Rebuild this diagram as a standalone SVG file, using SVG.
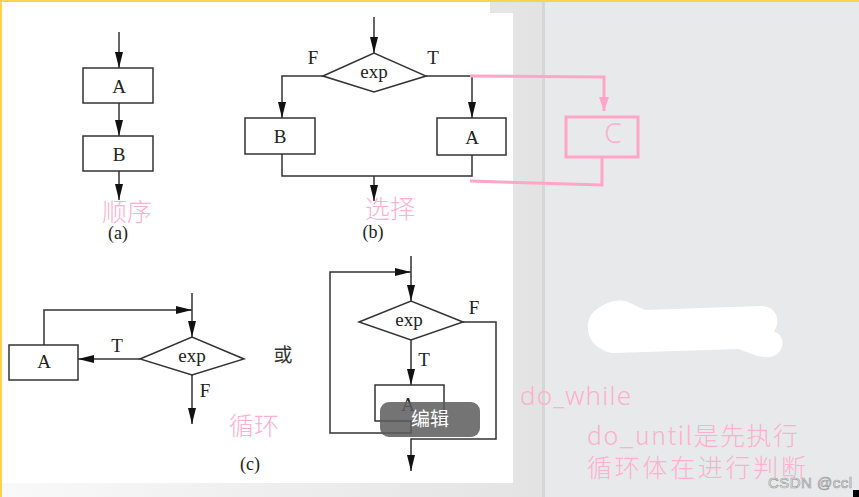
<svg xmlns="http://www.w3.org/2000/svg" width="859" height="497" viewBox="0 0 859 497">
<defs>
<linearGradient id="panel" x1="0" y1="0" x2="1" y2="0">
<stop offset="0" stop-color="#f9f9f9"/>
<stop offset="1" stop-color="#e3e3e3"/>
</linearGradient>
<marker id="ah" viewBox="0 0 16 8" refX="16" refY="4" markerWidth="16" markerHeight="8" markerUnits="userSpaceOnUse" orient="auto">
<path d="M0,0 L16,4 L0,8 z" fill="#111"/>
</marker>
<marker id="ahp" viewBox="0 0 14 10" refX="14" refY="5" markerWidth="14" markerHeight="10" markerUnits="userSpaceOnUse" orient="auto">
<path d="M0,0 L14,5 L0,10 z" fill="#ffa6c6"/>
</marker>
<style>
.box{fill:#fff;stroke:#333;stroke-width:1.5}
.ln{fill:none;stroke:#333;stroke-width:1.5}
.arr{marker-end:url(#ah)}
.t{font-family:"Liberation Serif",serif;font-size:19px;fill:#222;text-anchor:middle}
.cap{font-family:"Liberation Serif",serif;font-size:18px;fill:#222;text-anchor:middle}
.pk{font-family:"Noto Sans CJK SC","Noto Sans",sans-serif;font-weight:300;fill:#ffb0ca;font-size:25px}
.pl{fill:none;stroke:#ffa6c6;stroke-width:3}
</style>
</defs>

<!-- background -->
<rect x="0" y="0" width="859" height="497" fill="#e7e9ea"/>
<rect x="0" y="0" width="544" height="497" fill="url(#panel)"/>
<rect x="542" y="0" width="3" height="497" fill="#d6d6d6"/>
<rect x="0" y="0" width="490" height="483" fill="#fff"/>
<rect x="0" y="13" width="513" height="470" fill="#fff"/>
<rect x="0" y="0" width="859" height="2" fill="#ffd24f"/>
<rect x="0" y="0" width="2" height="497" fill="#ffd24f"/>

<!-- connectors -->
<g id="connectors">
<line class="ln arr" x1="119" y1="32" x2="119" y2="68"/>
<line class="ln arr" x1="119" y1="103" x2="119" y2="136"/>
<line class="ln arr" x1="119" y1="171" x2="119" y2="200"/>

<line class="ln arr" x1="374" y1="17" x2="374" y2="53"/>
<polyline class="ln arr" points="323,76 282,76 282,118"/>
<polyline class="ln arr" points="426,76 472,76 472,118"/>
<polyline class="ln" points="282,154 282,176 472,176 472,155"/>
<line class="ln arr" x1="374" y1="176" x2="374" y2="201"/>

<polyline class="ln arr" points="44,345 44,310 192,310"/>
<line class="ln arr" x1="192" y1="293" x2="192" y2="337"/>
<line class="ln arr" x1="140" y1="359" x2="78" y2="359"/>
<line class="ln arr" x1="192" y1="375" x2="192" y2="424"/>

<line class="ln arr" x1="411" y1="256" x2="411" y2="301"/>
<polyline class="ln arr" points="411,421 411,433 330,433 330,272 411,272"/>
<line class="ln arr" x1="411" y1="340" x2="411" y2="385"/>
<polyline class="ln arr" points="463,322 496,322 496,439 411,439 411,471"/>

<polyline class="pl" points="470,76 604,77 604,111" style="marker-end:url(#ahp)"/>
<polyline class="pl" points="602,157 602,185 470,181"/>
</g>

<!-- (a) sequence -->
<g id="a-A"><rect class="box" x="83" y="68" width="70" height="35"/><text class="t" x="119" y="93">A</text></g>
<g id="a-B"><rect class="box" x="83" y="136" width="70" height="35"/><text class="t" x="119" y="161">B</text></g>
<g id="a-label"><text class="pk" x="127" y="221" text-anchor="middle">顺序</text><text class="cap" x="118" y="239">(a)</text></g>

<!-- (b) selection -->
<g id="b-exp"><polygon class="box" points="323,76 374,53 426,76 374,92"/><text class="t" x="374" y="78">exp</text></g>
<g id="b-F"><text class="t" x="313" y="64">F</text></g>
<g id="b-T"><text class="t" x="433" y="64">T</text></g>
<g id="b-B"><rect class="box" x="245" y="118" width="70" height="36"/><text class="t" x="280" y="143">B</text></g>
<g id="b-A"><rect class="box" x="437" y="118" width="69" height="37"/><text class="t" x="472" y="144">A</text></g>
<g id="b-label"><text class="pk" x="390" y="218" text-anchor="middle">选择</text><text class="cap" x="373" y="238">(b)</text></g>

<!-- pink C -->
<g id="C"><rect class="pl" x="566" y="117" width="72" height="40"/><text x="613" y="143" text-anchor="middle" style="font-family:'Noto Sans',sans-serif;font-weight:300;font-size:28px;fill:#ffb0ca">C</text></g>

<!-- (c) loop -->
<g id="c-A"><rect class="box" x="9" y="345" width="69" height="35"/><text class="t" x="44" y="368">A</text></g>
<g id="c-exp"><polygon class="box" points="140,359 192,337 244,359 192,375"/><text class="t" x="192" y="362">exp</text></g>
<g id="c-T"><text class="t" x="117" y="352">T</text></g>
<g id="c-F"><text class="t" x="205" y="397">F</text></g>
<g id="c-or"><text x="283" y="362" text-anchor="middle" style="font-family:'Noto Sans CJK SC',sans-serif;font-size:19px;fill:#333">或</text></g>
<g id="c-label"><text class="pk" x="254" y="435" text-anchor="middle">循环</text><text class="cap" x="250" y="470">(c)</text></g>

<!-- (d) do loop -->
<g id="d-exp"><polygon class="box" points="359,322 411,301 463,322 411,340"/><text class="t" x="409" y="326">exp</text></g>
<g id="d-F"><text class="t" x="474" y="314">F</text></g>
<g id="d-T"><text class="t" x="424" y="366">T</text></g>
<g id="d-A"><rect class="box" x="375" y="385" width="69" height="36"/><text class="t" x="408" y="411">A</text></g>
<g id="edit-overlay"><rect x="380" y="402" width="100" height="35" rx="9" fill="#5c5c5c" fill-opacity="0.85"/><text x="430" y="426" text-anchor="middle" style="font-family:'Noto Sans CJK SC',sans-serif;font-size:19px;fill:#fff">编辑</text></g>

<!-- notes -->
<g id="blob"><path d="M600,348 C585,340 584,318 596,310 C606,302 618,298 628,302 L645,310 L760,306 C775,306 782,318 774,332 C786,334 786,354 770,357 C758,358 748,352 738,349 L645,352 L612,353 C606,352 603,350 600,348 Z" fill="#fff"/></g>
<g id="notes">
<text class="pk" x="520" y="405" textLength="111" style="font-family:'Noto Sans',sans-serif;font-size:26px">do_while</text>
<text class="pk" x="587" y="445" textLength="211">do_until是先执行</text>
<text class="pk" x="587" y="477" textLength="219">循环体在进行判断</text>
</g>
<g id="watermark"><text x="768" y="488" textLength="84" style="font-family:'Liberation Sans',sans-serif;font-size:15px;fill:#fff;stroke:#9a9a9a;stroke-width:0.7">CSDN @ccl</text></g>
<rect x="853" y="490" width="6" height="7" fill="#000"/>
</svg>
